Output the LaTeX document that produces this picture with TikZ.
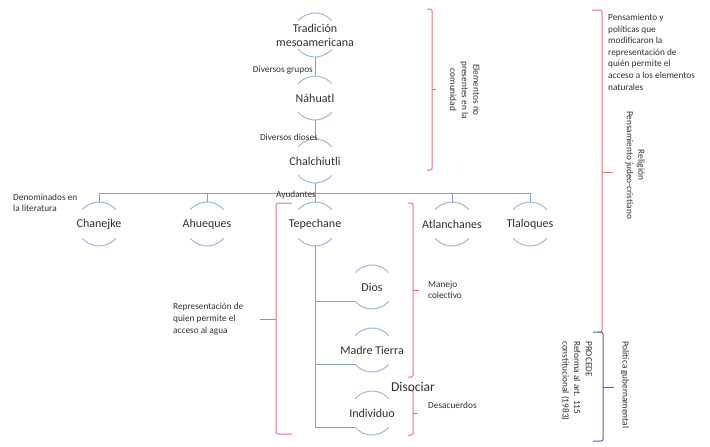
\documentclass[tikz,border=0pt]{standalone}
\usepackage{fontspec}
\setmainfont{Carlito}
\definecolor{txtc}{HTML}{303030}
\definecolor{linec}{HTML}{7FA3CE}
\definecolor{arcc}{HTML}{9DB8DA}
\definecolor{redc}{HTML}{E9707A}
\definecolor{bluec}{HTML}{55619E}
\begin{document}
\begin{tikzpicture}[x=1pt,y=-1pt,
  lbl/.style={font=\fontsize{12}{14}\selectfont, text=txtc, align=center, minimum height=44pt, inner sep=0pt},
  sml/.style={font=\fontsize{9.3}{11.6}\selectfont, text=txtc, inner sep=0pt},
  conn/.style={draw=linec, line width=1pt},
  arcl/.style={draw=arcc, line width=1pt},
  redbr/.style={draw=redc, line width=1pt, rounded corners=1.5pt},
  bluebr/.style={draw=bluec, line width=1pt, rounded corners=2pt}]
\useasboundingbox (0,0) rectangle (710,447);

% nodes
\node[lbl] (trad)  at (315,35)  {Tradición\\mesoamericana};
\node[lbl] (nah)   at (315,98)  {Náhuatl};
\node[lbl] (chal)  at (315,161) {Chalchiutli};
\node[lbl] (chan)  at (99,224)  {Chanejke};
\node[lbl] (ahu)   at (207,224) {Ahueques};
\node[lbl] (tepe)  at (315,224) {Tepechane};
\node[lbl] (atl)   at (452,224) {Atlanchanes};
\node[lbl] (tla)   at (530,224) {Tlaloques};
\node[lbl] (dios)  at (372,287) {Dios};
\node[lbl] (madre) at (372,350) {Madre Tierra};
\node[lbl] (indiv) at (372,413) {Individuo};

\foreach \n in {trad,nah,chal,chan,ahu,tepe,atl,tla,dios,madre,indiv}{
  \draw[arcl] ([shift={(40:22)}]\n.center) arc[start angle=40,end angle=140,radius=22];
  \draw[arcl] ([shift={(220:22)}]\n.center) arc[start angle=220,end angle=320,radius=22];
}

% connectors
\coordinate (bar) at (315,193);
\draw[conn] (trad.south) -- (nah.north);
\draw[conn] (nah.south) -- (chal.north);
\draw[conn] (chal.south) -- (bar);
\foreach \n in {chan,ahu,tepe,atl,tla}{
  \draw[conn] (bar) -| (\n.north);
}
\foreach \n in {dios,madre,indiv}{
  \coordinate (\n-in) at ([shift={(140:22)}]\n.center);
  \draw[conn] (tepe.south) |- (\n-in);
}

% labels on connectors
\node[sml, anchor=east] (lgrupos) at (313,70) {Diversos grupos};
\node[sml, anchor=east] (ldioses) at (318,137) {Diversos dioses};
\node[sml, anchor=east] (layud) at (316,195) {Ayudantes};
\node[sml, anchor=west, align=left] (ldenom) at (13,203) {Denominados en\\la literatura};

% left brace
\draw[redbr] (292,203) -- (276,203) -- (276,434) -- (292,434);
\draw[redbr] (276,319) -- (260,319);
\node[sml, anchor=west, align=left] (lrep) at (173,319) {Representación de\\quien permite el\\acceso al agua};

% manejo colectivo brace
\draw[redbr] (408,203) -- (413,203) -- (413,377) -- (408,377);
\draw[redbr] (413,290) -- (419,290);
\node[sml, anchor=west, align=left] (lmanejo) at (428,290) {Manejo\\colectivo};

% desacuerdos brace
\draw[redbr] (408,390) -- (413,390) -- (413,435) -- (408,435);
\draw[redbr] (413,413) -- (418,413);
\node[sml, anchor=west] (ldesac) at (428,405) {Desacuerdos};
\node[font=\fontsize{13.5}{15}\selectfont, text=txtc, inner sep=0pt] (ldisoc) at (413,387) {Disociar};

% elementos brace
\draw[redbr] (427,9) -- (432,9) -- (432,170) -- (427,170);
\draw[redbr] (432,89) -- (436,89);
\node[sml, rotate=-90, align=center] (lelem) at (465,90) {Elementos no\\presentes en la\\comunidad};

% big right brace
\draw[redbr] (592,10) -- (602,10) -- (602,332) -- (598,332);
\draw[redbr] (602,172) -- (613,172);
\node[sml, anchor=north west, align=left] (lpens) at (608,14) {Pensamiento y\\políticas que\\modificaron la\\representación de\\quién permite el\\acceso a  los elementos\\naturales};
\node[sml, rotate=-90, align=center] (lrelig) at (635,165) {Religión\\Pensamiento judeo-cristiano};

% blue brace
\draw[bluebr] (593,332) -- (603,332) -- (603,441) -- (593,441);
\draw[bluebr] (603,387) -- (614,387);
\node[sml, rotate=-90, anchor=west] (lpolit) at (625,341) {Política gubernamental};
\node[sml, rotate=-90, anchor=north west, align=left] (lproc) at (592,341) {PROCEDE\\Reforma al art. 115\\constitucional (1983)};
\end{tikzpicture}
\end{document}
